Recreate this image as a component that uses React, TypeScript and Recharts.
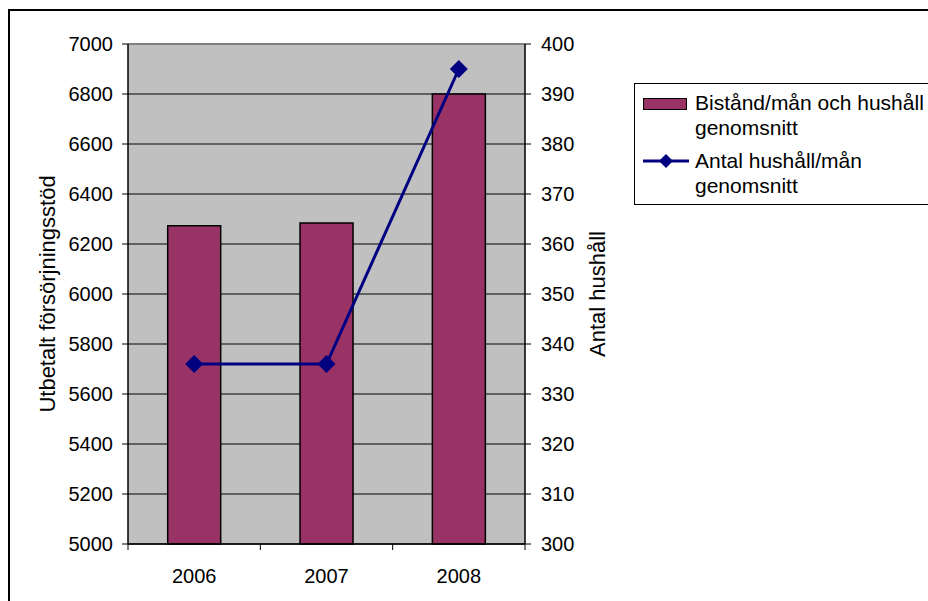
import React from 'react';
import { ComposedChart, Bar, Line, XAxis, YAxis, CartesianGrid, ReferenceLine } from 'recharts';

const years = ['2006', '2007', '2008'];
const bistand = [6273, 6284, 6800];
const hushall = [336, 336, 395];
const leftTicks = [5000, 5200, 5400, 5600, 5800, 6000, 6200, 6400, 6600, 6800, 7000];
const rightTicks = [300, 310, 320, 330, 340, 350, 360, 370, 380, 390, 400];
const seriesNames = ['Bistånd/mån och hushåll genomsnitt', 'Antal hushåll/mån genomsnitt'];

const data = years.map((y, i) => ({ year: y, bistand: bistand[i], hushall: hushall[i] }));

const FONT = '"Liberation Sans", Arial, sans-serif';
const PLOT_W = 928 - 68 - 60 - 60 - 343;

const Diamond = (props: any) => {
  const { cx, cy } = props;
  if (cx == null || cy == null) return null;
  const r = 9;
  return <polygon points={`${cx},${cy - r} ${cx + r},${cy} ${cx},${cy + r} ${cx - r},${cy}`} fill="#000080" />;
};

const CatTick = (props: any) => {
  const { x, y, payload, index, visibleTicksCount } = props;
  const n = visibleTicksCount || years.length;
  const half = PLOT_W / n / 2;
  const axisY = y - 6;
  return (
    <g>
      <line x1={x - half} y1={axisY} x2={x - half} y2={axisY + 6} stroke="#000" />
      {index === n - 1 && <line x1={x + half} y1={axisY} x2={x + half} y2={axisY + 6} stroke="#000" />}
      <text x={x} y={axisY + 39} textAnchor="middle" fill="#000" fontSize={20} fontFamily={FONT}>{payload.value}</text>
    </g>
  );
};

const splitName = (s: string) => {
  const i = s.lastIndexOf(' ');
  return [s.slice(0, i), s.slice(i + 1)];
};

const LegendBox = () => {
  const [a1, a2] = splitName(seriesNames[0]);
  const [b1, b2] = splitName(seriesNames[1]);
  return (
    <div style={{ position: 'absolute', left: 634, top: 83, border: '1px solid #000', background: '#fff', width: 320, height: 122, boxSizing: 'border-box', fontFamily: FONT, fontSize: 21, color: '#000' }}>
      <div style={{ position: 'absolute', left: 8, top: 14, width: 44, height: 12, background: '#993366', border: '1px solid #000', boxSizing: 'border-box' }} />
      <div style={{ position: 'absolute', left: 60, top: 6, lineHeight: '25px', whiteSpace: 'nowrap' }}>{a1}<br />{a2}</div>
      <svg style={{ position: 'absolute', left: 6, top: 67 }} width={50} height={20}>
        <line x1={2} y1={10} x2={48} y2={10} stroke="#000080" strokeWidth={3} />
        <polygon points="25,3 32,10 25,17 18,10" fill="#000080" />
      </svg>
      <div style={{ position: 'absolute', left: 60, top: 64, lineHeight: '25px', whiteSpace: 'nowrap' }}>{b1}<br />{b2}</div>
    </div>
  );
};

export default function App() {
  return (
    <div style={{ position: 'absolute', left: 0, top: 0, width: 928, height: 601, overflow: 'hidden', background: '#fff' }}>
      <div style={{ position: 'absolute', left: 8, top: 9, width: 940, height: 620, border: '2px solid #000', boxSizing: 'border-box' }} />
      <div style={{ position: 'absolute', left: 0, top: 0 }}>
        <ComposedChart width={928} height={601} data={data} margin={{ top: 44, right: 343, bottom: 27, left: 68 }} barCategoryGap="30%">
          <CartesianGrid fill="#C0C0C0" stroke="#000" vertical={false} yAxisId="left" xAxisId="cat" fillOpacity={1} />
          <XAxis dataKey="year" xAxisId="cat" height={30} tickLine={false} axisLine={{ stroke: '#000', strokeWidth: 1.5 }} tick={<CatTick />} tickSize={6} tickMargin={0} interval={0} />
          <YAxis yAxisId="left" domain={[5000, 7000]} ticks={leftTicks} width={60} interval={0} axisLine={{ stroke: '#000', strokeWidth: 1.5 }} tickLine={{ stroke: '#000' }} tickSize={6} tickMargin={9} tick={{ fill: '#000', fontSize: 20, fontFamily: FONT }}
            label={{ value: 'Utbetalt försörjningsstöd', angle: -90, position: 'left', offset: 21, style: { textAnchor: 'middle', fill: '#000', fontSize: 22, fontFamily: FONT } }} />
          <YAxis yAxisId="right" orientation="right" domain={[300, 400]} ticks={rightTicks} width={60} interval={0} axisLine={{ stroke: '#000', strokeWidth: 1.5 }} tickLine={{ stroke: '#000' }} tickSize={6} tickMargin={10} tick={{ fill: '#000', fontSize: 20, fontFamily: FONT, textAnchor: 'start' }}
            label={{ value: 'Antal hushåll', angle: -90, position: 'right', offset: 12, style: { textAnchor: 'middle', fill: '#000', fontSize: 22, fontFamily: FONT } }} />
          <ReferenceLine yAxisId="left" xAxisId="cat" y={7000} stroke="#808080" strokeWidth={2} />
          <Bar yAxisId="left" xAxisId="cat" dataKey="bistand" name={seriesNames[0]} fill="#993366" stroke="#000" strokeWidth={1.5} isAnimationActive={false} />
          <Line yAxisId="right" xAxisId="cat" dataKey="hushall" name={seriesNames[1]} stroke="#000080" strokeWidth={3} dot={<Diamond />} activeDot={false} isAnimationActive={false} />
        </ComposedChart>
      </div>
      <LegendBox />
    </div>
  );
}
